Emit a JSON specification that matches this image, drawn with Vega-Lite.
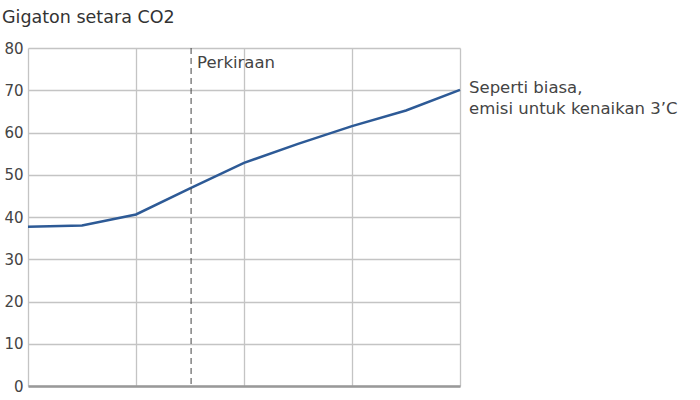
{
  "$schema": "https://vega.github.io/schema/vega-lite/v6.json",
  "autosize": {"type": "none"},
  "padding": {"left": 28, "top": 48, "right": 240, "bottom": 14},
  "width": 432,
  "height": 338,
  "background": "white",
  "title": {
    "text": "Gigaton setara CO2",
    "anchor": "start",
    "frame": "group",
    "dx": -26,
    "offset": 15,
    "font": "DejaVu Sans",
    "fontSize": 17.5,
    "fontWeight": "normal",
    "color": "#333333"
  },
  "config": {
    "view": {"stroke": null},
    "font": "DejaVu Sans"
  },
  "datasets": {
    "emisi": [
      {"tahun": 2000, "nilai": 37.7},
      {"tahun": 2005, "nilai": 38.0},
      {"tahun": 2010, "nilai": 40.6},
      {"tahun": 2015, "nilai": 46.8},
      {"tahun": 2020, "nilai": 52.8},
      {"tahun": 2025, "nilai": 57.3},
      {"tahun": 2030, "nilai": 61.5},
      {"tahun": 2035, "nilai": 65.2},
      {"tahun": 2040, "nilai": 70.1}
    ],
    "batas": [
      {"tahun": 2015.1, "nilai": 76.4, "label": "Perkiraan"}
    ],
    "akhir": [
      {"tahun": 2040, "nilai": 70.1, "label": ["Seperti biasa,", "emisi untuk kenaikan 3’C"]}
    ]
  },
  "layer": [
    {
      "data": {"name": "emisi"},
      "mark": {"type": "line", "color": "#2d5a96", "strokeWidth": 2.5},
      "encoding": {
        "x": {
          "field": "tahun",
          "type": "quantitative",
          "scale": {"domain": [2000, 2040], "nice": false, "zero": false},
          "axis": {
            "values": [2000, 2010, 2020, 2030, 2040],
            "labels": false,
            "ticks": false,
            "title": null,
            "grid": true,
            "gridColor": "#c4c4c4",
            "gridWidth": 1.3,
            "domain": true,
            "domainColor": "#999999",
            "domainWidth": 2.5
          }
        },
        "y": {
          "field": "nilai",
          "type": "quantitative",
          "scale": {"domain": [0, 80], "nice": false},
          "axis": {
            "values": [0, 10, 20, 30, 40, 50, 60, 70, 80],
            "title": null,
            "ticks": false,
            "domain": false,
            "grid": true,
            "gridColor": "#c4c4c4",
            "gridWidth": 1.3,
            "labelFontSize": 15,
            "labelColor": "#444444",
            "labelPadding": 5,
            "labelFont": "DejaVu Sans"
          }
        }
      }
    },
    {
      "data": {"name": "batas"},
      "mark": {"type": "rule", "color": "#444444", "strokeDash": [6, 4], "strokeWidth": 1},
      "encoding": {
        "x": {"field": "tahun", "type": "quantitative"}
      }
    },
    {
      "data": {"name": "batas"},
      "mark": {"type": "text", "align": "left", "baseline": "middle", "dx": 6, "fontSize": 16.5, "color": "#444444"},
      "encoding": {
        "x": {"field": "tahun", "type": "quantitative"},
        "y": {"field": "nilai", "type": "quantitative"},
        "text": {"field": "label"}
      }
    },
    {
      "data": {"name": "akhir"},
      "mark": {"type": "text", "align": "left", "baseline": "top", "dx": 9, "dy": -10, "fontSize": 16.5, "lineHeight": 21, "color": "#444444"},
      "encoding": {
        "x": {"field": "tahun", "type": "quantitative"},
        "y": {"field": "nilai", "type": "quantitative"},
        "text": {"field": "label"}
      }
    }
  ]
}
